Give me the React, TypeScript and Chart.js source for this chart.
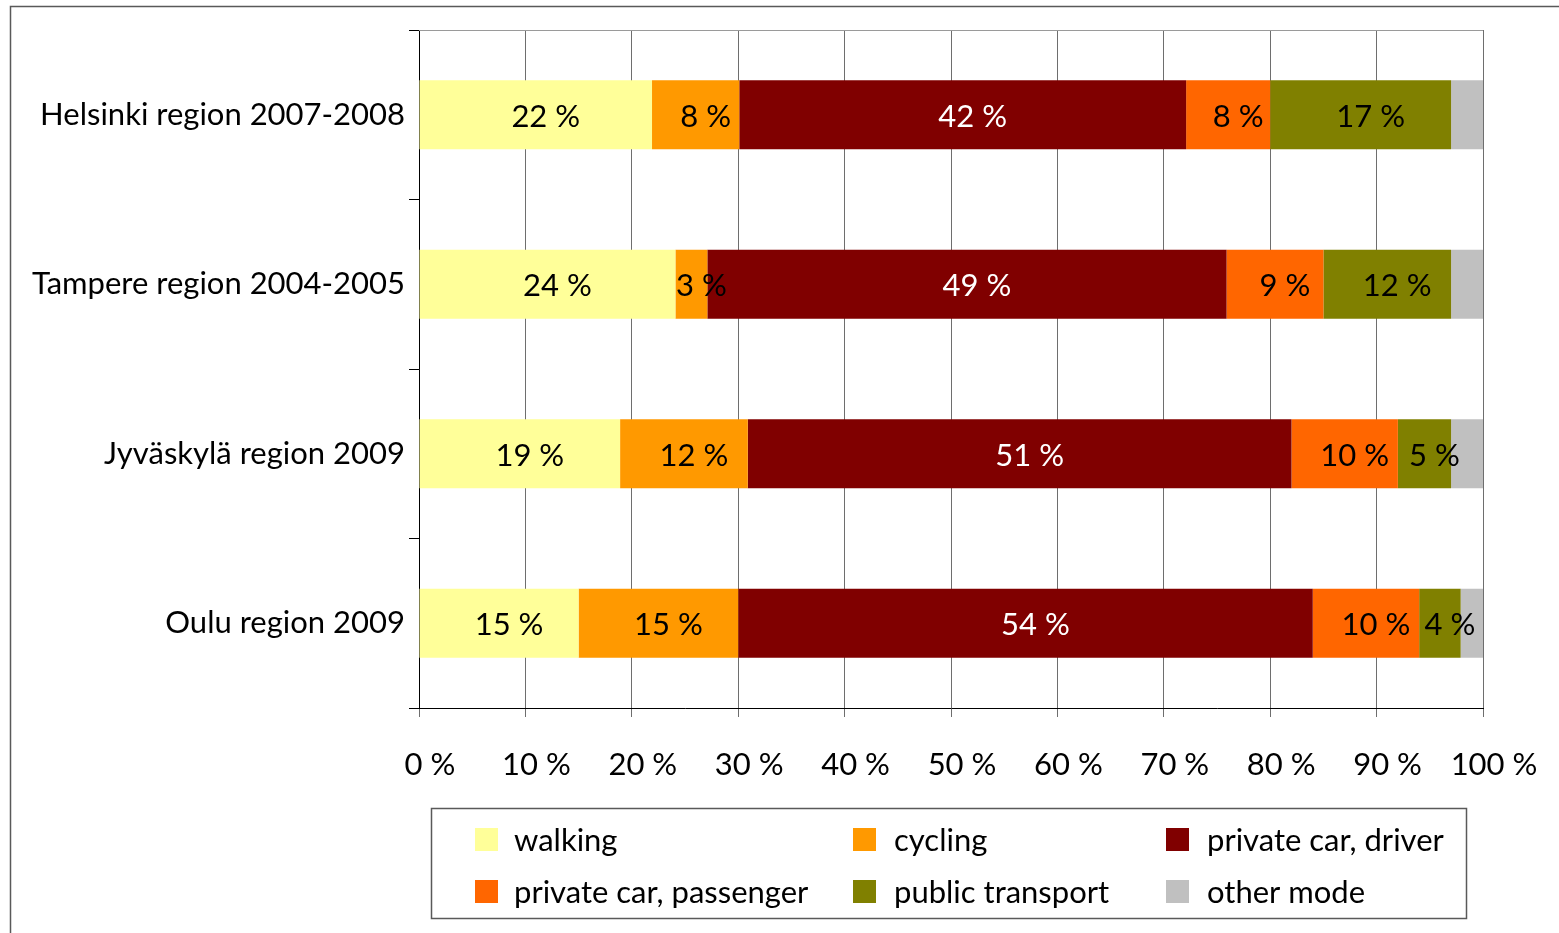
import React, { useEffect, useRef } from 'react';
import { Chart, registerables } from 'chart.js';

Chart.register(...registerables);

const FONT = 'Lato';
const FONT_SIZE = 31;

const categories = [
  'Helsinki region 2007-2008',
  'Tampere region 2004-2005',
  'Jyväskylä region 2009',
  'Oulu region 2009',
];

const seriesNames = [
  'walking',
  'cycling',
  'private car, driver',
  'private car, passenger',
  'public transport',
  'other mode',
];

const walking = [21.9, 24.1, 18.9, 15.0];
const cycling = [8.2, 3.0, 12.0, 15.0];
const carDriver = [42.0, 48.8, 51.1, 54.0];
const carPassenger = [7.9, 9.1, 10.0, 10.0];
const publicTransport = [17.0, 12.0, 5.0, 3.9];
const otherMode = [3.0, 3.0, 3.0, 2.1];

const xTickValues = [0, 10, 20, 30, 40, 50, 60, 70, 80, 90, 100];

const seriesColors = ['#FFFF99', '#FF9900', '#800000', '#FF6600', '#808000', '#C0C0C0'];
const labelColors = ['#000', '#000', '#fff', '#000', '#000', '#000'];
const showLabels = [true, true, true, true, true, false];

const seriesValues = [walking, cycling, carDriver, carPassenger, publicTransport, otherMode];

const framePlugin = {
  id: 'frame',
  beforeDraw(chart: any) {
    const { ctx, chartArea } = chart;
    ctx.save();
    ctx.fillStyle = '#fff';
    ctx.fillRect(0, 0, chart.width, chart.height);
    ctx.strokeStyle = '#595959';
    ctx.lineWidth = 1.5;
    ctx.strokeRect(10.5, 6.5, chart.width + 40, chart.height + 40);
    ctx.restore();
  },
  beforeDatasetsDraw(chart: any) {
    const { ctx, chartArea } = chart;
    ctx.save();
    ctx.strokeStyle = '#9a9a9a';
    ctx.lineWidth = 1;
    ctx.beginPath();
    ctx.moveTo(chartArea.left, Math.round(chartArea.top) + 0.5);
    ctx.lineTo(chartArea.right, Math.round(chartArea.top) + 0.5);
    ctx.stroke();
    ctx.restore();
  },
};

const segLabelPlugin = {
  id: 'segLabels',
  afterDatasetsDraw(chart: any) {
    const ctx = chart.ctx;
    ctx.save();
    ctx.font = `${FONT_SIZE}px ${FONT}`;
    ctx.textAlign = 'center';
    ctx.textBaseline = 'middle';
    chart.data.datasets.forEach((ds: any, di: number) => {
      if (!showLabels[di]) return;
      const meta = chart.getDatasetMeta(di);
      ctx.fillStyle = labelColors[di];
      meta.data.forEach((bar: any, i: number) => {
        const v = ds.data[i] as number;
        const p = bar.getProps(['x', 'base', 'y'], true);
        const cx = (p.x + p.base) / 2 + 10;
        ctx.fillText(`${Math.round(v)} %`, cx, p.y + 2);
      });
    });
    ctx.restore();
  },
};

const legendPlugin = {
  id: 'gridLegend',
  afterDraw(chart: any) {
    const ctx = chart.ctx;
    const boxX = 431.5;
    const boxY = 808.5;
    const boxW = 1035;
    const boxH = 110;
    const colX = [475, 853, 1166];
    const rowY = [839.5, 891.5];
    ctx.save();
    ctx.strokeStyle = '#595959';
    ctx.lineWidth = 1.5;
    ctx.strokeRect(boxX, boxY, boxW, boxH);
    ctx.font = `${FONT_SIZE}px ${FONT}`;
    ctx.textAlign = 'left';
    ctx.textBaseline = 'middle';
    chart.data.datasets.forEach((ds: any, i: number) => {
      const c = i % 3;
      const r = Math.floor(i / 3);
      const sx = colX[c];
      const sy = rowY[r];
      ctx.fillStyle = ds.backgroundColor;
      ctx.fillRect(sx, sy - 11.5, 23, 23);
      ctx.fillStyle = '#000';
      ctx.fillText(ds.label, sx + (c === 0 ? 39 : 41), sy + 1);
    });
    ctx.restore();
  },
};

export default function App() {
  const ref = useRef<HTMLCanvasElement>(null);

  useEffect(() => {
    let chart: Chart | null = null;
    let cancelled = false;
    const make = () => {
      if (cancelled || !ref.current) return;
      Chart.defaults.font.family = FONT;
      Chart.defaults.font.size = FONT_SIZE;
      Chart.defaults.color = '#000';
      chart = new Chart(ref.current, {
        type: 'bar',
        data: {
          labels: categories,
          datasets: seriesNames.map((name, i) => ({
            label: name,
            data: seriesValues[i],
            backgroundColor: seriesColors[i],
            borderWidth: 0,
            barPercentage: 0.407,
            categoryPercentage: 1,
          })),
        },
        options: {
          indexAxis: 'y',
          responsive: false,
          animation: false,
          events: [],
          layout: { padding: { left: 0, top: 30, right: 76, bottom: 0 } },
          plugins: {
            legend: { display: false },
            tooltip: { enabled: false },
            title: { display: false },
          },
          scales: {
            x: {
              type: 'linear',
              stacked: true,
              min: 0,
              max: 100,
              position: 'bottom',
              border: { display: true, color: '#000', width: 1 },
              grid: {
                color: '#6e6e6e',
                lineWidth: 1,
                drawTicks: true,
                tickLength: 9,
                tickColor: '#6e6e6e',
              },
              ticks: {
                color: '#000',
                font: { family: FONT, size: FONT_SIZE },
                padding: 29,
                labelOffset: 11,
                maxRotation: 0,
                autoSkip: false,
                callback: (v: any) => `${v} %`,
              },
              afterBuildTicks: (s: any) => {
                s.ticks = xTickValues.map((v) => ({ value: v }));
              },
              afterFit: (s: any) => {
                s.height = 225;
              },
            },
            y: {
              type: 'category',
              stacked: true,
              position: 'left',
              border: { display: true, color: '#000', width: 1 },
              grid: {
                drawOnChartArea: false,
                drawTicks: true,
                tickLength: 10,
                tickColor: '#000',
                offset: true,
              },
              ticks: {
                color: '#000',
                font: { family: FONT, size: FONT_SIZE },
                padding: 4,
                autoSkip: false,
              },
              afterFit: (s: any) => {
                s.width = 419;
              },
            },
          },
        },
        plugins: [framePlugin, segLabelPlugin, legendPlugin],
      } as any);
    };
    if ((document as any).fonts && (document as any).fonts.load) {
      (document as any).fonts.load(`${FONT_SIZE}px ${FONT}`).then(make, make);
    } else {
      make();
    }
    return () => {
      cancelled = true;
      if (chart) chart.destroy();
    };
  }, []);

  return (
    <div style={{ position: 'absolute', left: 0, top: 0, width: 1559, height: 933, background: '#fff', overflow: 'hidden' }}>
      <canvas ref={ref} width={1559} height={933} style={{ display: 'block', width: 1559, height: 933 }} />
    </div>
  );
}
